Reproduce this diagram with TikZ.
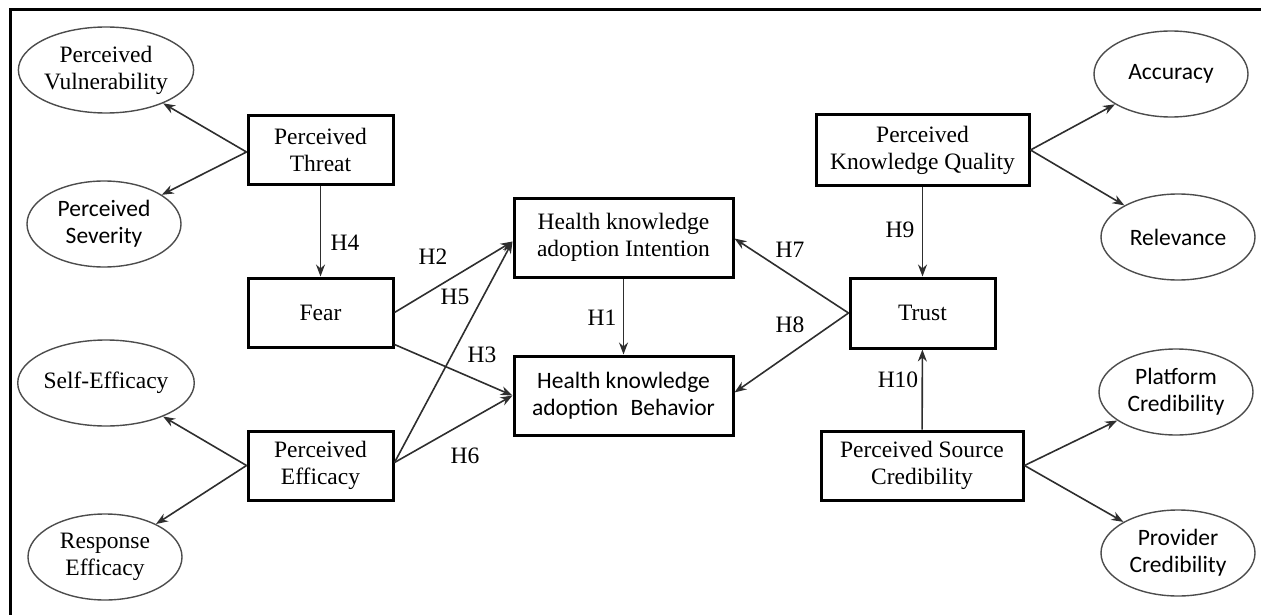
\documentclass[tikz,border=0pt]{standalone}
\usepackage{fontspec}
\setmainfont{Liberation Serif}
\newfontfamily\calfont{Carlito}
\usetikzlibrary{shapes.geometric,arrows.meta}
\begin{document}
\begin{tikzpicture}[x=1pt,y=-1pt,
  every node/.style={font=\fontsize{23.5}{27}\selectfont},
  calstyle/.style={font=\calfont\fontsize{23.5}{27}\selectfont},
  box/.style={draw=black,line width=3pt,minimum width=145pt,minimum height=69pt,inner sep=0pt,align=center},
  oval/.style={ellipse,draw=black!70,line width=1.4pt,minimum width=154pt,minimum height=86pt,inner sep=0pt,align=center},
  arr/.style={draw=black!82,line width=1.6pt,-{Stealth[length=12pt,width=9pt]}},
  lab/.style={inner sep=0pt}]
\useasboundingbox (0,0) rectangle (1261,615);
\draw[line width=3pt] (10,615) -- (10,10) -- (1261,10);

% left ellipses
\node[oval] (vul) at (106,70) {Perceived\\Vulnerability};
\node[oval,calstyle] (sev) at (104,224) {Perceived\\Severity};
\node[oval] (self) at (106,383) {Self-Efficacy};
\node[oval] (resp) at (105,557) {Response\\Efficacy};

% left boxes
\node[box] (threat) at (320.5,150) {Perceived\\Threat};
\node[box] (fear) at (320.5,312.5) {Fear};
\node[box] (effic) at (320.5,465.5) {Perceived\\Efficacy};

% centre boxes
\node[box,minimum width=219pt,minimum height=79pt] (intent) at (623.5,237.5) {Health knowledge\\adoption Intention};
\node[box,minimum width=219pt,minimum height=79pt,calstyle] (behav) at (623.5,395.5) {Health knowledge\\adoption\hspace{0.3em} Behavior};

% right boxes
\node[box,minimum width=213pt,minimum height=70pt] (pkq) at (922.5,150) {Perceived\\Knowledge Quality};
\node[box,minimum width=145pt,minimum height=70pt] (trust) at (922.5,313) {Trust};
\node[box,minimum width=202pt,minimum height=69pt] (psc) at (922,465.5) {Perceived Source\\Credibility};

% right ellipses
\node[oval,calstyle] (acc) at (1171,74) {Accuracy};
\node[oval,calstyle] (rel) at (1178,237) {Relevance};
\node[oval,calstyle] (plat) at (1176,392) {Platform\\Credibility};
\node[oval,calstyle] (prov) at (1178,553) {Provider\\Credibility};

% connection points
\coordinate (thL) at ([yshift=-2pt]threat.west);
\coordinate (efL) at (effic.west);
\coordinate (fearA) at (fear.east);
\coordinate (fearB) at ([yshift=4pt]fear.south east);
\coordinate (efR) at ([yshift=3pt]effic.east);
\coordinate (inL) at ([yshift=-4pt]intent.west);
\coordinate (inR) at ([yshift=-1pt]intent.east);
\coordinate (beR) at ([yshift=3pt]behav.east);

% measurement arrows
\draw[arr] (thL) -- (vul);
\draw[arr] (thL) -- (sev);
\draw[arr] (efL) -- (self);
\draw[arr] (efL) -- (resp);
\draw[arr] (pkq.east) -- (acc);
\draw[arr] (pkq.east) -- (rel);
\draw[arr] (psc.east) -- (plat);
\draw[arr] (psc.east) -- (prov);

% structural paths
\draw[arr] (threat) -- (fear);
\draw[arr] (intent) -- (behav);
\draw[arr] (fearA) -- (inL);
\draw[arr] (efR) -- (inL);
\draw[arr] (fearB) -- (behav.west);
\draw[arr] (efR) -- (behav.west);
\draw[arr] (trust.west) -- (inR);
\draw[arr] (trust.west) -- (beR);
\draw[arr] (pkq) -- (trust);
\draw[arr] (psc) -- (trust);

% labels
\node[lab] (h4) at (345,243) {H4};
\node[lab] (h1) at (602,318) {H1};
\node[lab] (h2) at (433,257) {H2};
\node[lab] (h5) at (455,297) {H5};
\node[lab] (h3) at (482,355) {H3};
\node[lab] (h6) at (465,456) {H6};
\node[lab] (h7) at (790,250) {H7};
\node[lab] (h8) at (790,325) {H8};
\node[lab] (h9) at (900,230) {H9};
\node[lab] (h10) at (898,380) {H10};
\end{tikzpicture}
\end{document}
